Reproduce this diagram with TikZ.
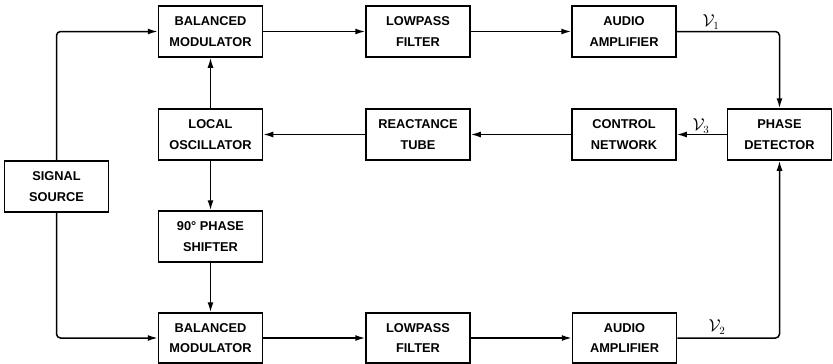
\documentclass[tikz,border=0pt]{standalone}
\usepackage{fontspec}
\setmainfont{Liberation Sans}
\usetikzlibrary{arrows.meta}
\begin{document}
\begin{tikzpicture}[x=1pt,y=-1pt,
  blk/.style={draw, line width=1.5pt, minimum width=104pt, minimum height=51pt, align=center,
    font=\fontsize{12.8}{20.5}\selectfont\bfseries, inner sep=0pt},
  conn/.style={line width=1.5pt, -{Latex[length=10pt,width=6pt]}, rounded corners=4pt},
  lbl/.style={font=\fontsize{16}{18}\selectfont, inner sep=0pt}]
\useasboundingbox (0,0) rectangle (833,364);
% top row
\node[blk] (bm1) at (210.5,31.5) {BALANCED\\MODULATOR};
\node[blk] (lp1) at (418,31.5) {LOWPASS\\FILTER};
\node[blk] (aa1) at (624,31.5) {AUDIO\\AMPLIFIER};
% middle row
\node[blk] (lo) at (210.5,134.5) {LOCAL\\OSCILLATOR};
\node[blk] (rt) at (418,134.5) {REACTANCE\\TUBE};
\node[blk] (cn) at (624,134.5) {CONTROL\\NETWORK};
\node[blk] (pd) at (779.5,134.5) {PHASE\\DETECTOR};
% left and lower
\node[blk] (ss) at (56.5,186.5) {SIGNAL\\SOURCE};
\node[blk] (ps) at (210.5,236.5) {90° PHASE\\SHIFTER};
% bottom row
\node[blk, minimum height=50pt] (bm2) at (210.5,338) {BALANCED\\MODULATOR};
\node[blk, minimum height=50pt] (lp2) at (418,338) {LOWPASS\\FILTER};
\node[blk, minimum height=50pt] (aa2) at (624.5,338) {AUDIO\\AMPLIFIER};
% labels
\node[lbl] (v1) at (711,22) {$\mathcal{V}_1$};
\node[lbl] (v3) at (701,126) {$\mathcal{V}_3$};
\node[lbl] (v2) at (717,327) {$\mathcal{V}_2$};
% connectors
\draw[conn] (ss.north) |- (bm1.west);
\draw[conn] (ss.south) |- (bm2.west);
\draw[conn] (bm1.east) -- (lp1.west);
\draw[conn] (lp1.east) -- (aa1.west);
\draw[conn] (aa1.east) -| (pd.north);
\draw[conn] (pd.west) -- (cn.east);
\draw[conn] (cn.west) -- (rt.east);
\draw[conn] (rt.west) -- (lo.east);
\draw[conn] (lo.north) -- (bm1.south);
\draw[conn] (lo.south) -- (ps.north);
\draw[conn] (ps.south) -- (bm2.north);
\draw[conn] (bm2.east) -- (lp2.west);
\draw[conn] (lp2.east) -- (aa2.west);
\draw[conn] (aa2.east) -| (pd.south);
\end{tikzpicture}
\end{document}
